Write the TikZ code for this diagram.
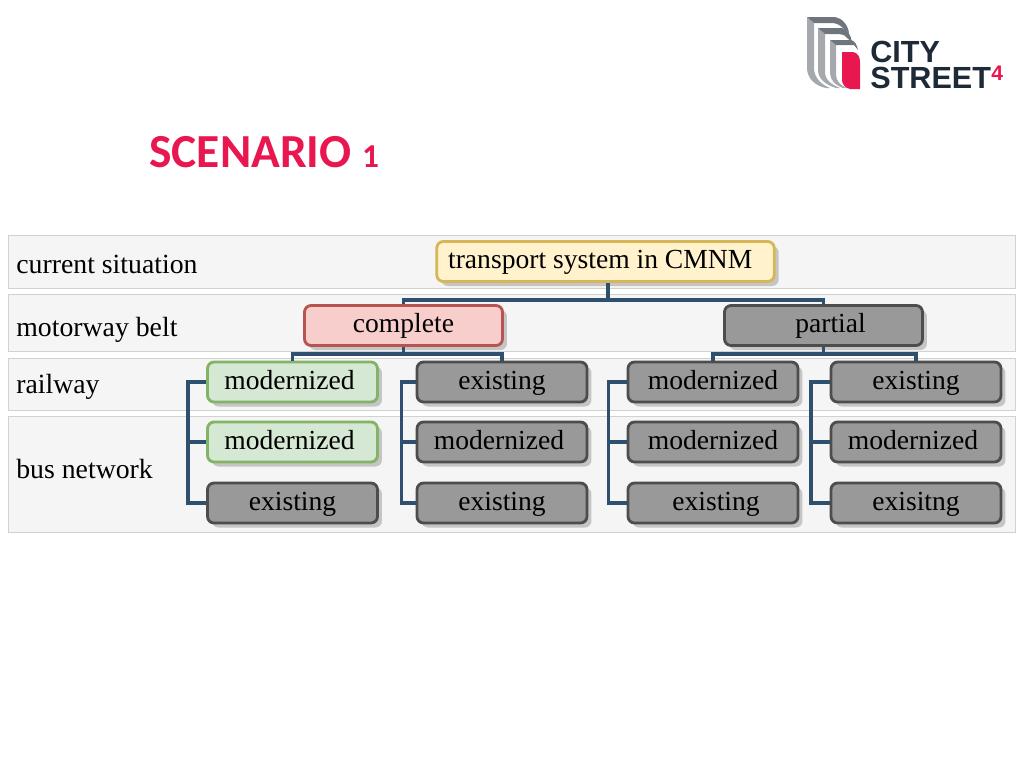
\documentclass[tikz,border=0pt]{standalone}
\usepackage{fontspec}
\setmainfont{Liberation Serif}
\newfontfamily\titlefont{Carlito}
\newfontfamily\logofont{Liberation Sans}
\usetikzlibrary{shadows}
\definecolor{linkblue}{HTML}{2F4F6F}
\definecolor{pinkred}{HTML}{E8174F}
\definecolor{bandgray}{HTML}{F5F5F5}
\definecolor{logonavy}{HTML}{1F2A38}
\definecolor{logotop}{HTML}{6F757D}
\definecolor{logoside}{HTML}{A5A9AE}
\definecolor{greenline}{HTML}{82B366}
\definecolor{greenfill}{HTML}{D5E8D4}
\definecolor{redline}{HTML}{B85450}
\definecolor{redfill}{HTML}{F8CECC}
\definecolor{yellowline}{HTML}{D6B656}
\definecolor{yellowfill}{HTML}{FFF2CC}
\definecolor{grayline}{HTML}{4D4D4D}
\definecolor{grayfill}{HTML}{999999}
\tikzset{
  band/.style={draw=black!18,fill=bandgray,line width=.4pt},
  bandlabel/.style={anchor=west,inner sep=0pt,font=\fontsize{15.8}{18}\selectfont},
  box/.style={draw,rounded corners=.13cm,line width=1.6pt,minimum height=.8cm,inner sep=0pt,
    text height=11pt,text depth=3pt,font=\fontsize{15.7}{18}\selectfont,
    drop shadow={shadow xshift=.09cm,shadow yshift=-.09cm,fill=black!35,opacity=.6}},
  graybox/.style={box,draw=grayline,fill=grayfill,minimum width=3.4cm},
  greenbox/.style={box,draw=greenline,fill=greenfill,minimum width=3.4cm},
  link/.style={draw=linkblue,line width=2pt},
  logotext/.style={anchor=base west,inner sep=0pt,text=logonavy,font=\fontsize{17.4}{20}\selectfont\logofont\bfseries},
}
\begin{document}
\begin{tikzpicture}[x=.02cm,y=-.02cm]
\useasboundingbox (0,0) rectangle (1024,768);
% bands
\draw[band] (8,235) rectangle (1015,288);
\draw[band] (8,294) rectangle (1015,351);
\draw[band] (8,358) rectangle (1015,410);
\draw[band] (8,416) rectangle (1015,532);
\node[bandlabel] (current) at (16,264) {current situation};
\node[bandlabel] (motorway) at (16,330) {motorway belt};
\node[bandlabel] (railway) at (16,387) {railway};
\node[bandlabel] (bus) at (16,469) {bus network};
% title
\node[anchor=west,inner sep=0pt,text=pinkred,font=\fontsize{27}{30}\selectfont\titlefont\bfseries] (title) at (149,152)
  {SCENARIO {\fontsize{19}{24}\selectfont 1}};
% tree
\node[box,draw=yellowline,fill=yellowfill,minimum width=6.75cm] (root) at (605.5,261.5) {transport system in CMNM\hspace*{6pt}};
\node[box,draw=redline,fill=redfill,minimum width=3.96cm] (complete) at (403.5,325.5) {complete};
\node[box,draw=grayline,fill=grayfill,minimum width=3.96cm] (partial) at (823.5,325.5) {\hspace*{8pt}partial};
\node[greenbox] (railA) at (292.5,382) {modernized\hspace*{3.4pt}};
\node[greenbox] (busA) at (292.5,442) {modernized\hspace*{3.4pt}};
\node[graybox] (oldA) at (292.5,503) {existing};
\node[graybox] (railB) at (502,382) {existing};
\node[graybox] (busB) at (502,442) {modernized\hspace*{3.4pt}};
\node[graybox] (oldB) at (502,503) {existing};
\node[graybox] (railC) at (713,382) {modernized};
\node[graybox] (busC) at (713,442) {modernized};
\node[graybox] (oldC) at (713,503) {\hspace*{3.4pt}existing};
\node[graybox] (railD) at (916,382) {existing};
\node[graybox] (busD) at (916,442) {modernized\hspace*{3.4pt}};
\node[graybox] (oldD) at (916,503) {exisitng};
% connectors
\coordinate (rootbar) at (608,300);
\coordinate (completebar) at (403.5,354);
\coordinate (partialbar) at (823.5,354);
\draw[link] (rootbar|-root.south) -- (rootbar);
\draw[link] (complete.north) |- (rootbar);
\draw[link] (partial.north) |- (rootbar);
\draw[link] (complete.south) -- (completebar);
\draw[link] (railA.north) |- (completebar);
\draw[link] (railB.north) |- (completebar);
\draw[link] (partial.south) -- (partialbar);
\draw[link] (railC.north) |- (partialbar);
\draw[link] (railD.north) |- (partialbar);
\foreach \col/\xbar in {A/188,B/401.5,C/608.5,D/811} {
  \coordinate (bar\col) at (\xbar,442);
  \draw[link] (rail\col.west) -| (bar\col) |- (old\col.west);
  \draw[link] (bus\col.west) -- (bar\col);
}
% logo
\fill[logoside] (807,17) -- (814,23) -- (814,68) .. controls (814,78) and (822,85) .. (830,88) -- (826,88) .. controls (815,86) and (807,78) .. (807,68) -- cycle;
\fill[logotop] (807,17) -- (835,17) .. controls (842,18) and (848,25) .. (849,33) -- (843,28) .. controls (840,25) and (836,23) .. (832,23) -- (814,23) -- cycle;
\fill[logoside] (818,28) -- (825,34) -- (825,72) .. controls (825,80) and (832,85) .. (840,88) -- (836,88) .. controls (826,85) and (818,79) .. (818,70) -- cycle;
\fill[logotop] (818,28) -- (842,28) .. controls (847,29) and (851,35) .. (852,42) -- (847,38) .. controls (845,35) and (842,34) .. (839,34) -- (825,34) -- cycle;
\fill[logoside] (830,40) -- (836,45) -- (836,75) .. controls (836,81) and (841,86) .. (847,88) -- (843,88) .. controls (835,85) and (830,80) .. (830,73) -- cycle;
\fill[logotop] (830,40) -- (851,40) .. controls (855,41) and (857,45) .. (858,50) -- (854,45) -- (836,45) -- cycle;
\fill[pinkred] (842,52) -- (853,52) .. controls (858,53) and (860,57) .. (860,62) -- (860,89) -- (850,89) .. controls (845,88) and (842,84) .. (842,80) -- cycle;
\node[logotext] (city) at (870,62) {CITY};
\node[logotext] (street) at (870,88) {STREET};
\node[anchor=base west,inner sep=0pt,text=pinkred,font=\fontsize{12}{14}\selectfont\logofont\bfseries] (four) at (991,80) {4};
\end{tikzpicture}
\end{document}
